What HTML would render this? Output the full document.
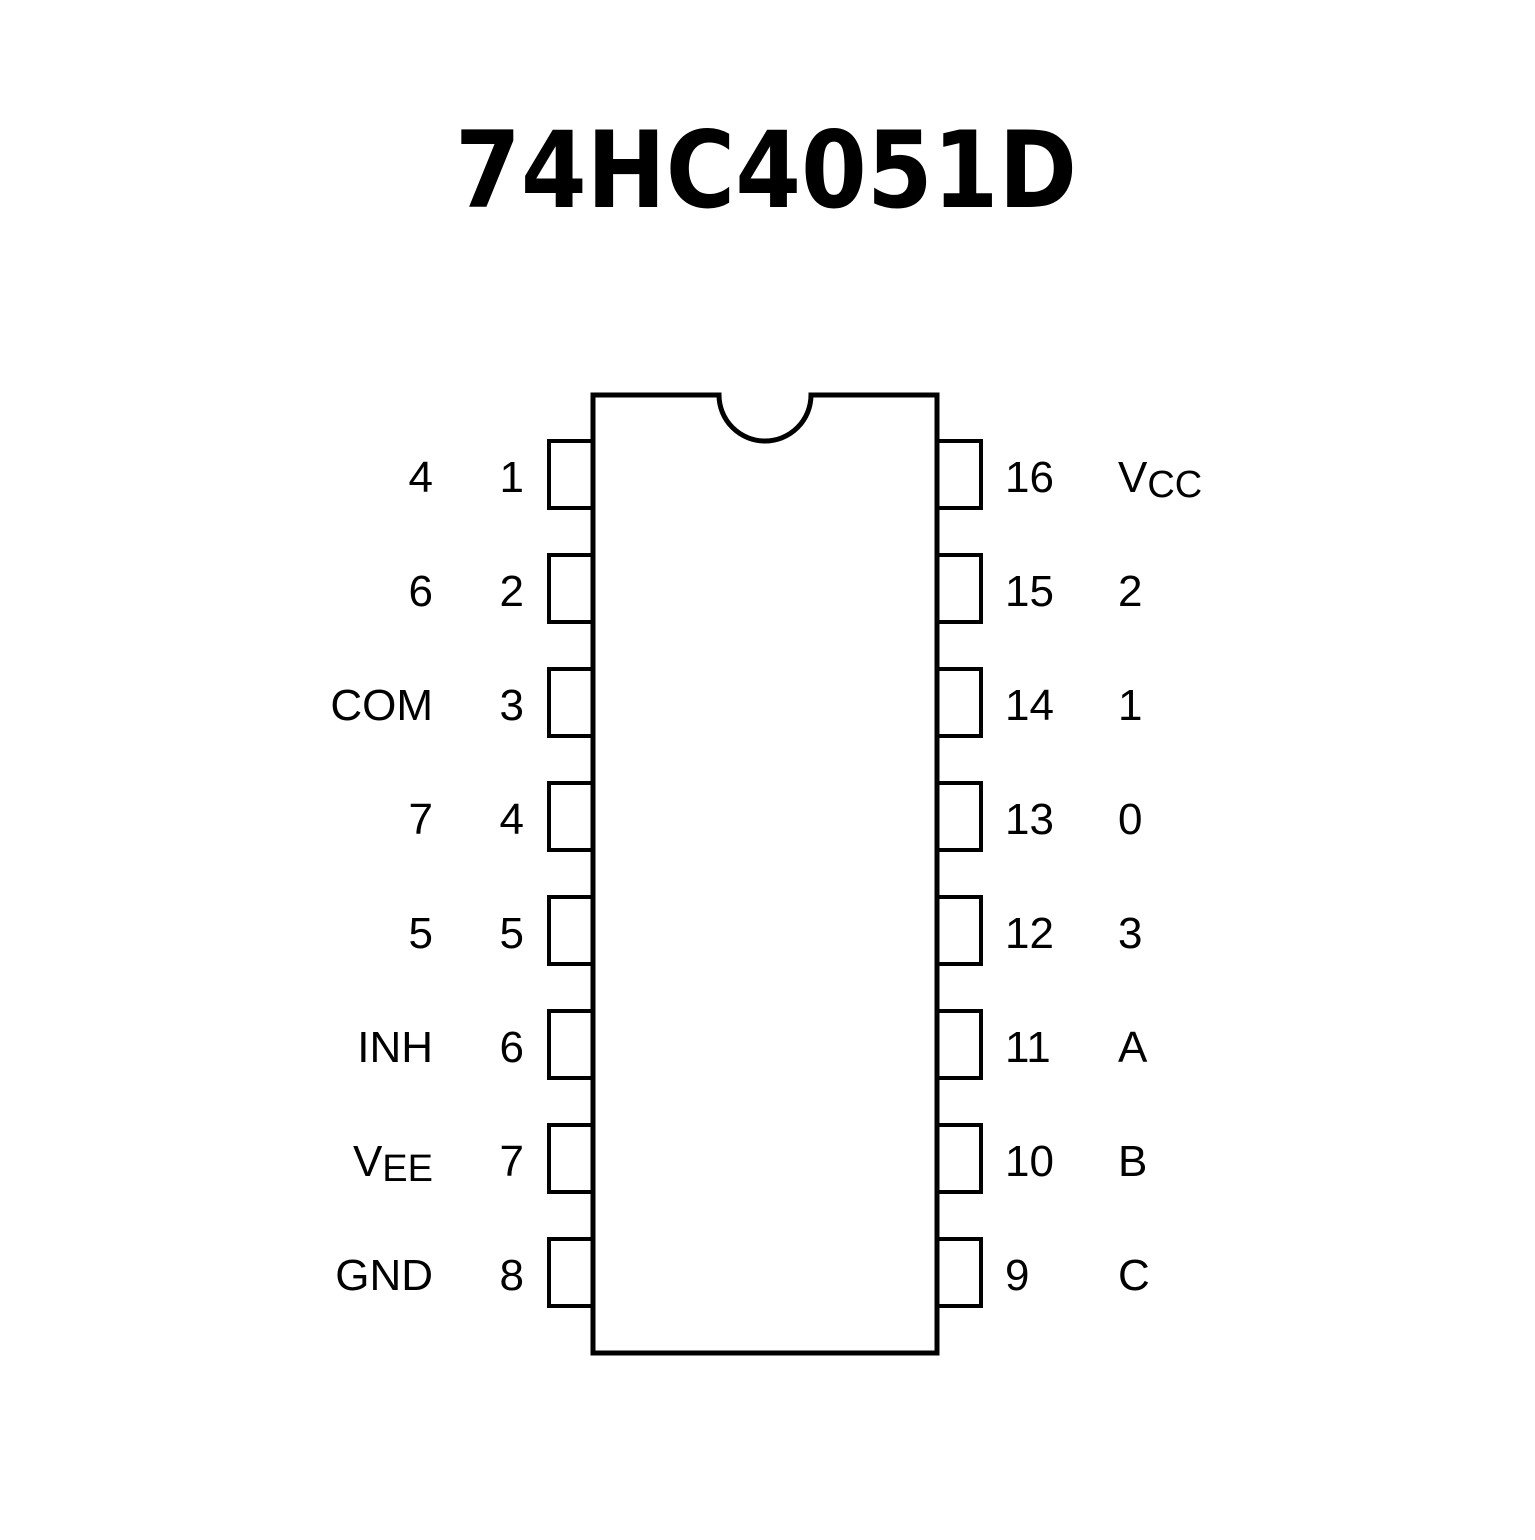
<!DOCTYPE html>
<html><head><meta charset="utf-8"><style>html,body{margin:0;padding:0;background:#fff}</style></head>
<body>
<svg width="1535" height="1535" viewBox="0 0 1535 1535" xmlns="http://www.w3.org/2000/svg">
<rect width="1535" height="1535" fill="#fff"/>
<text x="766" y="207" font-family="DejaVu Sans, sans-serif" font-weight="bold" font-size="106" text-anchor="middle" textLength="622" lengthAdjust="spacingAndGlyphs">74HC4051D</text>
<path d="M593,395 H719 A46,46 0 0 0 811,395 H937 V1353 H593 Z" fill="none" stroke="#000" stroke-width="5"/>
<g fill="none" stroke="#000" stroke-width="4">
<rect x="549" y="441" width="44" height="67"/><rect x="549" y="555" width="44" height="67"/>
<rect x="549" y="669" width="44" height="67"/><rect x="549" y="783" width="44" height="67"/>
<rect x="549" y="897" width="44" height="67"/><rect x="549" y="1011" width="44" height="67"/>
<rect x="549" y="1125" width="44" height="67"/><rect x="549" y="1239" width="44" height="67"/>
<rect x="937" y="441" width="44" height="67"/><rect x="937" y="555" width="44" height="67"/>
<rect x="937" y="669" width="44" height="67"/><rect x="937" y="783" width="44" height="67"/>
<rect x="937" y="897" width="44" height="67"/><rect x="937" y="1011" width="44" height="67"/>
<rect x="937" y="1125" width="44" height="67"/><rect x="937" y="1239" width="44" height="67"/>
</g>
<g font-family="Liberation Sans, sans-serif" font-size="44" fill="#000">
<g text-anchor="end">
<text x="433" y="492">4</text><text x="524" y="492">1</text>
<text x="433" y="606">6</text><text x="524" y="606">2</text>
<text x="433" y="720">COM</text><text x="524" y="720">3</text>
<text x="433" y="834">7</text><text x="524" y="834">4</text>
<text x="433" y="948">5</text><text x="524" y="948">5</text>
<text x="433" y="1062">INH</text><text x="524" y="1062">6</text>
<text x="433" y="1176">V<tspan font-size="38" dy="5">EE</tspan></text><text x="524" y="1176">7</text>
<text x="433" y="1290">GND</text><text x="524" y="1290">8</text>
</g>
<text x="1005" y="492">16</text><text x="1118" y="492">V<tspan font-size="38" dy="5">CC</tspan></text>
<text x="1005" y="606">15</text><text x="1118" y="606">2</text>
<text x="1005" y="720">14</text><text x="1118" y="720">1</text>
<text x="1005" y="834">13</text><text x="1118" y="834">0</text>
<text x="1005" y="948">12</text><text x="1118" y="948">3</text>
<text x="1005" y="1062">11</text><text x="1118" y="1062">A</text>
<text x="1005" y="1176">10</text><text x="1118" y="1176">B</text>
<text x="1005" y="1290">9</text><text x="1118" y="1290">C</text>
</g>
</svg>
</body></html>
